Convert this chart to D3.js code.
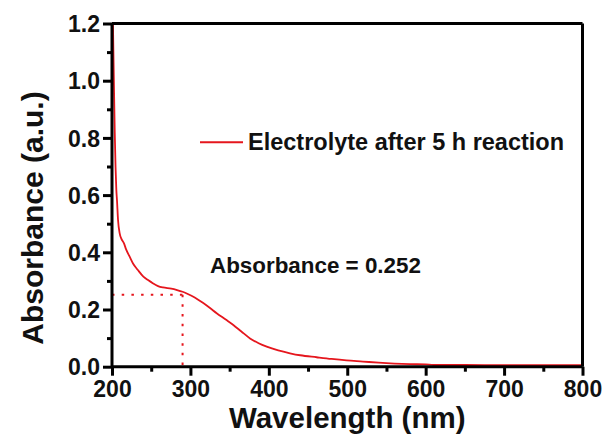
<!DOCTYPE html>
<html>
<head>
<meta charset="utf-8">
<script src="https://cdn.jsdelivr.net/npm/d3@7"></script>
<style>
  html, body { margin: 0; padding: 0; background: #fff; }
  svg { display: block; }
  text { font-family: "Liberation Sans", Arial, sans-serif; font-weight: bold; fill: #111; }
</style>
</head>
<body>
<svg id="chart" width="606" height="438"></svg>
<script>
// ---- data ----
const wavelength = [201.0, 201.5, 202.5, 203.5, 204.5, 205.5, 206.4, 207.7, 209.8, 212, 215.3, 218, 222.5, 227, 233, 240, 246, 252, 258.7, 265, 275.6, 283, 290, 296, 305.5, 315, 325, 333.5, 345, 354.7, 365, 376, 387, 397.3, 412, 427, 440, 461, 480, 499, 520, 540, 560, 580, 600, 610, 650, 700, 750, 800];
const absorbance = [1.25, 1.15, 0.98, 0.82, 0.70, 0.62, 0.58, 0.513, 0.466, 0.447, 0.431, 0.410, 0.385, 0.360, 0.338, 0.315, 0.303, 0.292, 0.282, 0.277, 0.273, 0.268, 0.262, 0.255, 0.242, 0.225, 0.205, 0.187, 0.165, 0.146, 0.123, 0.099, 0.082, 0.070, 0.057, 0.047, 0.040, 0.033, 0.027, 0.022, 0.018, 0.014, 0.011, 0.009, 0.008, 0.006, 0.006, 0.005, 0.005, 0.005];
const xTicks = [200, 300, 400, 500, 600, 700, 800];
const xMinorTicks = [250, 350, 450, 550, 650, 750];
const yTicks = [0.0, 0.2, 0.4, 0.6, 0.8, 1.0, 1.2];
const yMinorTicks = [0.1, 0.3, 0.5, 0.7, 0.9, 1.1];
const markWavelength = [290];
const markAbsorbance = [0.252];
const seriesName = "Electrolyte after 5 h reaction";
const annotation = "Absorbance = 0.252";
const xTitle = "Wavelength (nm)";
const yTitle = "Absorbance (a.u.)";

// ---- layout ----
const pL = 112, pR = 582.5, pT = 23.5, pB = 366.7;
const red = "#e5161d";
const svg = d3.select("#chart");

const x = d3.scaleLinear().domain([200, 800]).range([pL, pR]);
const y = d3.scaleLinear().domain([0, 1.2]).range([pB, pT]);

svg.append("defs").append("clipPath").attr("id", "plotclip")
  .append("rect").attr("x", pL).attr("y", pT).attr("width", pR - pL).attr("height", pB - pT);

// dotted guide lines
const mx = markWavelength[0], my = markAbsorbance[0];
svg.append("line").attr("x1", x(200)).attr("x2", x(mx)).attr("y1", y(my)).attr("y2", y(my))
  .attr("stroke", red).attr("stroke-width", 2).attr("stroke-dasharray", "2.5,7.2");
svg.append("line").attr("x1", x(mx)).attr("x2", x(mx)).attr("y1", y(my)).attr("y2", y(0))
  .attr("stroke", red).attr("stroke-width", 2).attr("stroke-dasharray", "2.5,7.2");

// curve
const pts = wavelength.map((w, i) => [w, absorbance[i]]);
svg.append("path").datum(pts)
  .attr("clip-path", "url(#plotclip)")
  .attr("d", d3.line().x(d => x(d[0])).y(d => y(d[1])).curve(d3.curveMonotoneX))
  .attr("fill", "none").attr("stroke", red).attr("stroke-width", 1.8);

// frame top/right
svg.append("line").attr("x1", pL).attr("x2", pR).attr("y1", pT).attr("y2", pT).attr("stroke", "#000").attr("stroke-width", 3);
svg.append("line").attr("x1", pR).attr("x2", pR).attr("y1", pT).attr("y2", pB).attr("stroke", "#000").attr("stroke-width", 3);

// axes
const xAxis = svg.append("g").attr("transform", `translate(0,${pB})`)
  .call(d3.axisBottom(x).tickValues(xTicks).tickFormat(d3.format("d")).tickSize(9).tickPadding(5));
const xMinor = svg.append("g").attr("transform", `translate(0,${pB})`)
  .call(d3.axisBottom(x).tickValues(xMinorTicks).tickFormat("").tickSize(5));
const yAxis = svg.append("g").attr("transform", `translate(${pL},0)`)
  .call(d3.axisLeft(y).tickValues(yTicks).tickFormat(d3.format(".1f")).tickSize(9).tickPadding(3));
const yMinor = svg.append("g").attr("transform", `translate(${pL},0)`)
  .call(d3.axisLeft(y).tickValues(yMinorTicks).tickFormat("").tickSize(5));

[xAxis, xMinor, yAxis, yMinor].forEach(g => {
  g.select(".domain").attr("stroke", "#000").attr("stroke-width", 3);
  g.selectAll(".tick line").attr("stroke", "#000").attr("stroke-width", 3);
  g.selectAll(".tick text").style("font-family", "'Liberation Sans', Arial, sans-serif")
    .style("font-weight", "bold").style("font-size", "23px").attr("fill", "#111");
});
xAxis.select(".domain").attr("d", `M${pL},0H${pR}`);
yAxis.select(".domain").attr("d", `M0,${pB}V${pT}`);
xMinor.select(".domain").remove();
yMinor.select(".domain").remove();
yAxis.selectAll(".tick text").attr("dy", "0.36em");

// titles
svg.append("text").attr("x", (pL + pR) / 2).attr("y", 428).attr("text-anchor", "middle")
  .style("font-size", "29.5px").text(xTitle);
svg.append("text").attr("transform", "translate(43,218) rotate(-90)").attr("text-anchor", "middle")
  .style("font-size", "30px").text(yTitle);

// legend
svg.append("line").attr("x1", 200).attr("x2", 243).attr("y1", 142.3).attr("y2", 142.3)
  .attr("stroke", red).attr("stroke-width", 2);
svg.append("text").attr("x", 248).attr("y", 149.5).style("font-size", "23.5px").text(seriesName);

// annotation
svg.append("text").attr("x", 210).attr("y", 272.5).style("font-size", "22.4px").text(annotation);
</script>
</body>
</html>
